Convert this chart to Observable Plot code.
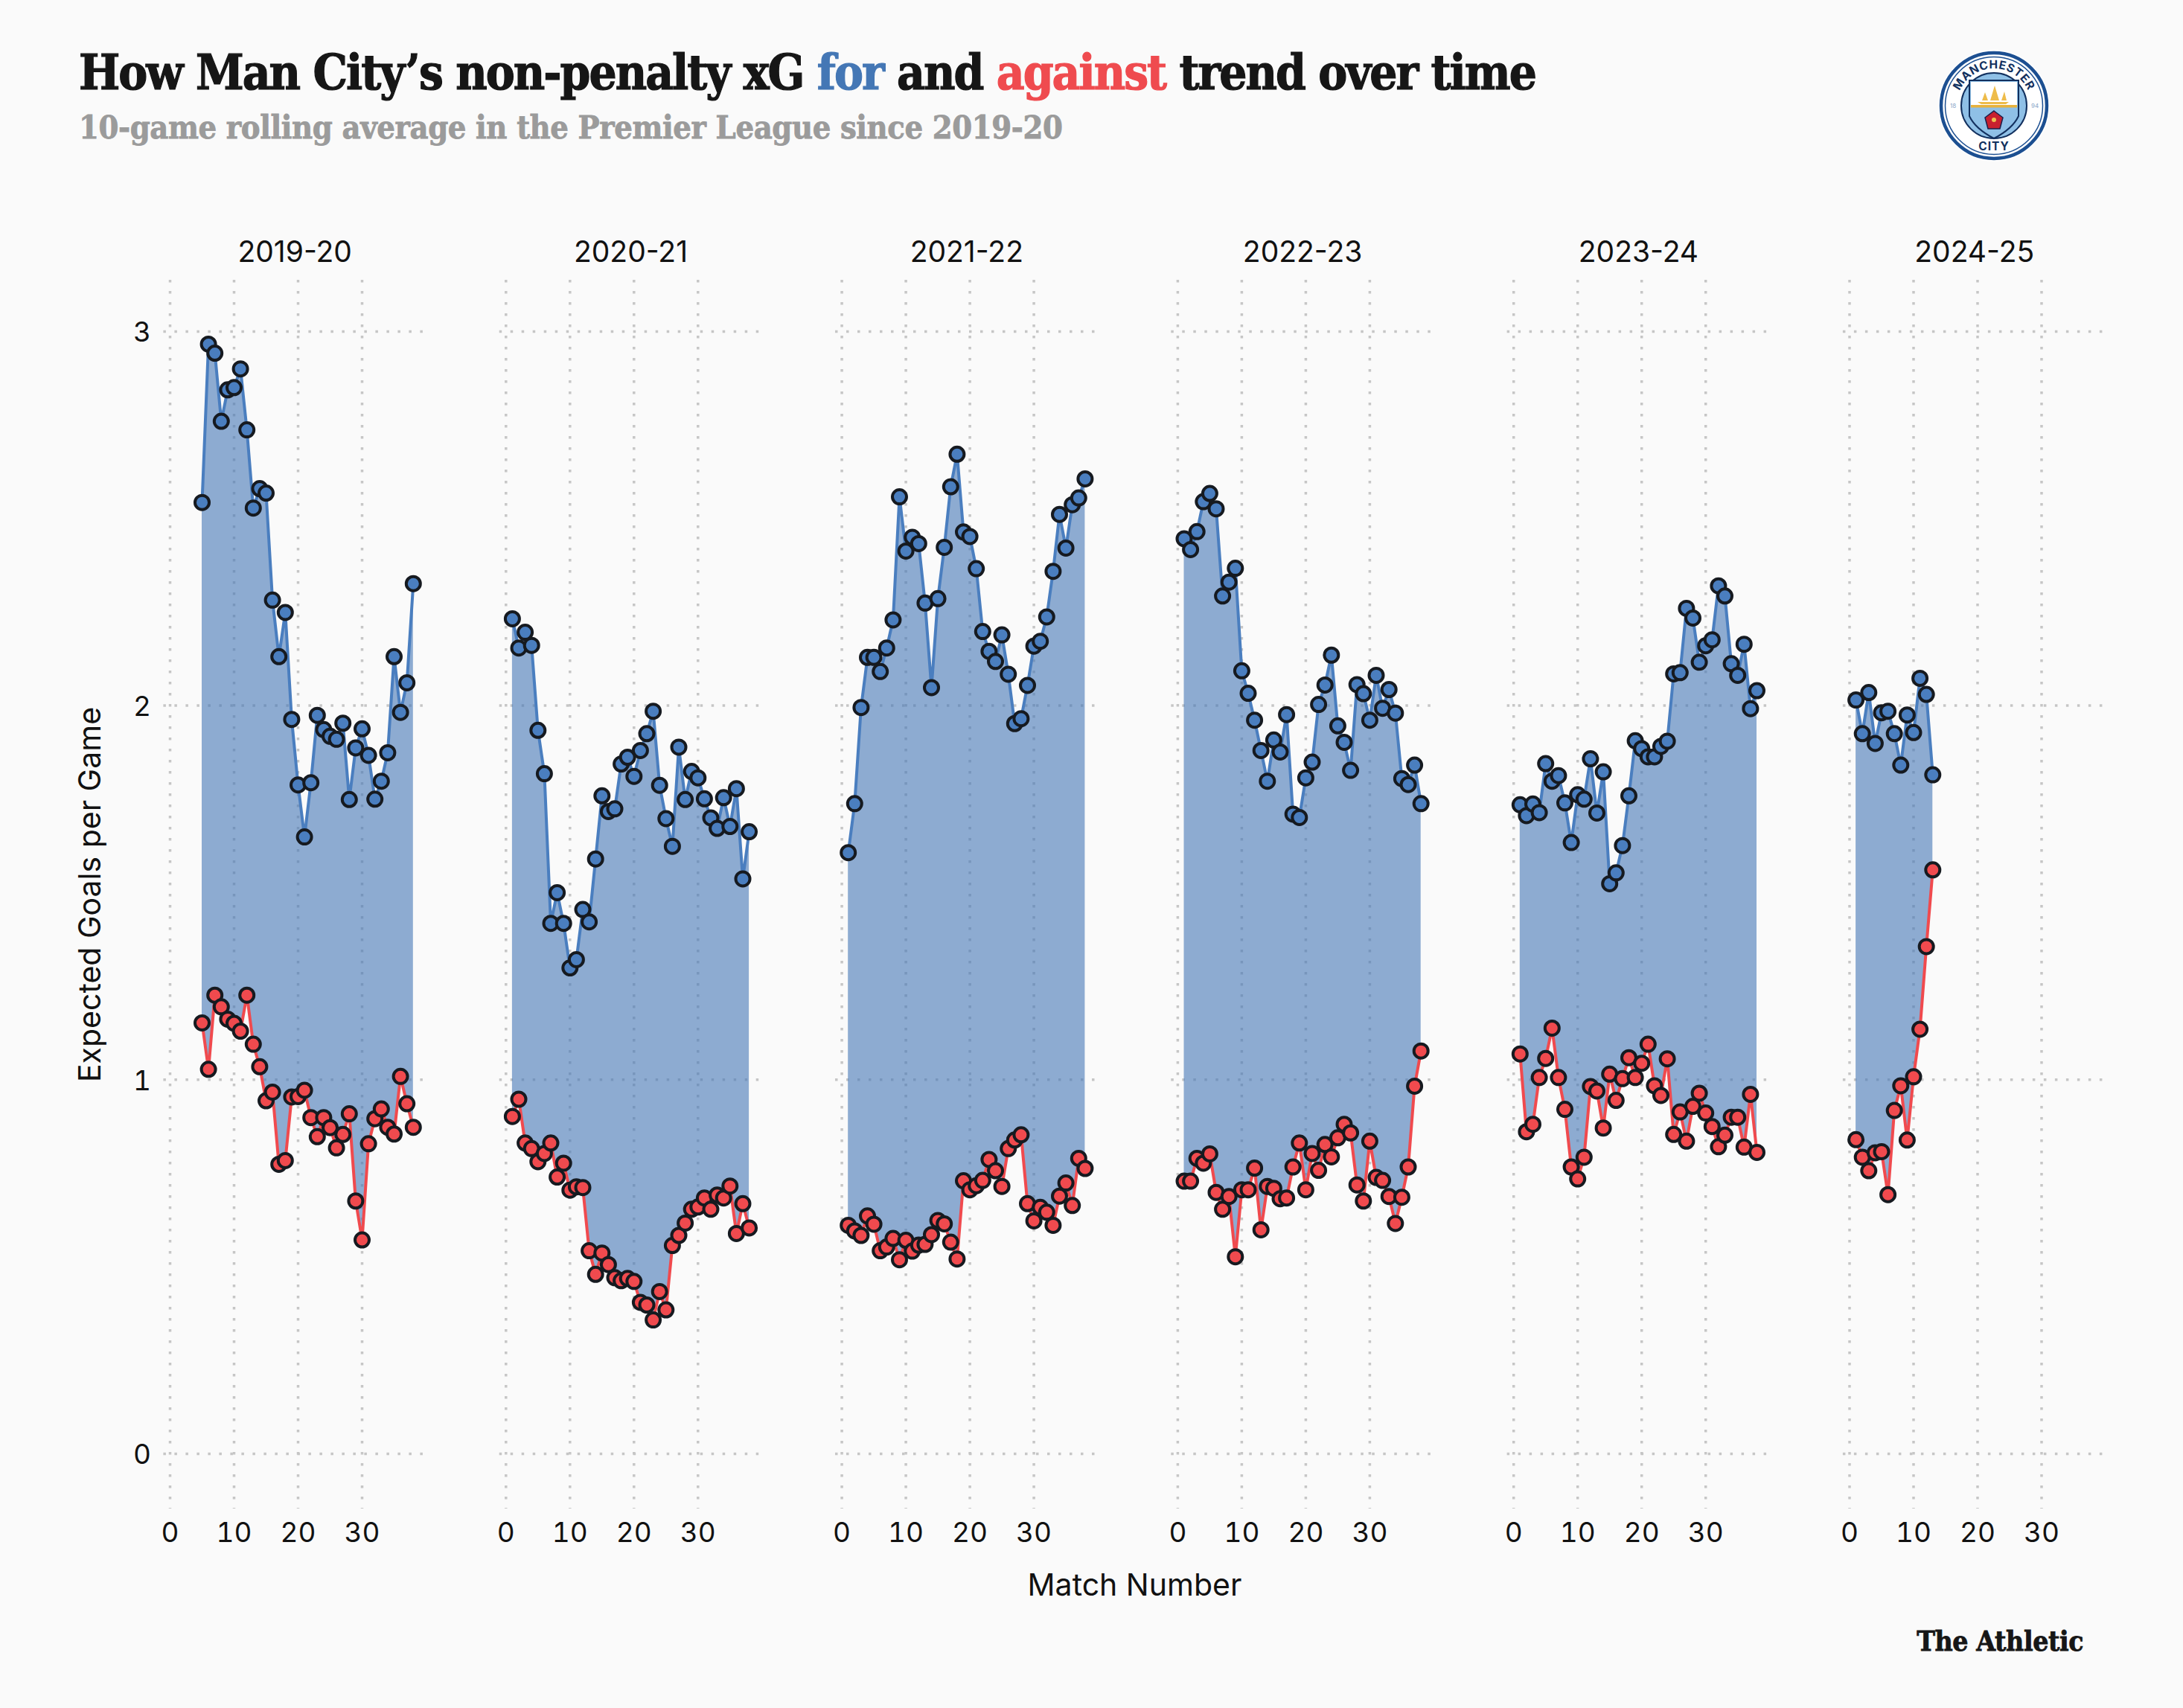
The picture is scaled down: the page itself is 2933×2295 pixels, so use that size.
<!DOCTYPE html>
<html><head><meta charset="utf-8">
<script src="https://cdn.jsdelivr.net/npm/d3@7"></script>
<script src="https://cdn.jsdelivr.net/npm/@observablehq/plot@0.6"></script>
<style>
html,body{margin:0;padding:0;background:#fafafa;}
#page{position:relative;width:2933px;height:2295px;overflow:hidden;background:#fafafa;}
#header{position:relative;height:290px;}
.slab{font-family:"DejaVu Serif Condensed","DejaVu Serif",serif;font-weight:700;white-space:nowrap;position:absolute;line-height:1;}
#title{left:106px;top:65px;font-size:65px;color:#161616;letter-spacing:-2px;-webkit-text-stroke:1.2px currentColor;}
#subtitle{left:106px;top:150px;font-size:43px;color:#9b9b9b;letter-spacing:-0.4px;-webkit-text-stroke:0.8px currentColor;}
#logo{position:absolute;left:2600px;top:63px;width:158px;height:158px;}
#caption{position:absolute;left:2450px;width:349px;text-align:right;top:2187px;font-size:37px;letter-spacing:-0.4px;color:#161616;-webkit-text-stroke:0.8px currentColor;}
#chart svg{display:block;}
</style></head>
<body><div id="page">
<div id="header">
<div id="title" class="slab">How Man City’s non-penalty xG <span style="color:#4477b5">for</span> and <span style="color:#ef4b4f">against</span> trend over time</div>
<div id="subtitle" class="slab">10-game rolling average in the Premier League since 2019-20</div>
<svg id="logo" viewBox="-79 -79 158 158">
<defs><path id="arcTop" d="M -48.3 12.9 A 50 50 0 1 1 48.3 12.9"/></defs>
<circle r="75" fill="#fff"/>
<circle r="71" fill="none" stroke="#1c4f91" stroke-width="4.5"/>
<circle r="65.5" fill="none" stroke="#1c4f91" stroke-width="1.5"/>
<circle r="44" fill="#8fc0e6" stroke="#12305e" stroke-width="2"/>
<text font-family="Inter,sans-serif" font-weight="700" font-size="15.5" fill="#12305e" letter-spacing="0.6"><textPath href="#arcTop" startOffset="50%" text-anchor="middle">MANCHESTER</textPath></text>
<text y="60" text-anchor="middle" font-family="Inter,sans-serif" font-weight="700" font-size="15.5" fill="#12305e" letter-spacing="1">CITY</text>
<text x="-55" y="3" text-anchor="middle" font-family="Inter,sans-serif" font-size="8" fill="#8aa6c8">18</text>
<text x="55" y="3" text-anchor="middle" font-family="Inter,sans-serif" font-size="8" fill="#8aa6c8">94</text>
<path d="M -33 -34 L 33 -34 L 33 14 Q 25 31 0 44 Q -25 31 -33 14 Z" fill="#8fc0e6" stroke="#12305e" stroke-width="2"/>
<path d="M -31 -32 L 31 -32 L 31 1 L -31 1 Z" fill="#fff"/>
<rect x="-31" y="-1" width="62" height="3.5" fill="#e8b23c"/>
<path d="M -22 -5 L 20 -5 L 16 -2 L -17 -2 Z M -16 -7 L -12 -18 L -8 -7 Z M -5 -7 L 1 -27 L 7 -7 Z M 10 -7 L 14 -19 L 17 -7 Z" fill="#eebc4a"/>
<path d="M 0 7 L 12 16 L 8 31 L -8 31 L -12 16 Z" fill="#c8202f" stroke="#1b1f4b" stroke-width="1.5"/>
<circle cy="19" r="3" fill="#efc14f"/>
</svg>
</div>
<div id="chart"></div>
<div id="caption" class="slab">The Athletic</div>
</div>
<script>
const seasons = ["2019-20","2020-21","2021-22","2022-23","2023-24","2024-25"];
const firstMatch = [5,1,1,1,1,1];
const xTicks = [0,10,20,30];
const yTicks = [0,1,2,3];

const for1920 = [2.543,2.966,2.942,2.76,2.844,2.85,2.90,2.737,2.528,2.58,2.568,2.282,2.131,2.249,1.963,1.788,1.649,1.794,1.974,1.936,1.918,1.910,1.953,1.749,1.887,1.938,1.867,1.750,1.798,1.874,2.131,1.982,2.061,2.326];
const against1920 = [1.152,1.028,1.226,1.195,1.162,1.151,1.130,1.226,1.095,1.035,0.944,0.967,0.774,0.784,0.954,0.955,0.972,0.899,0.848,0.899,0.872,0.818,0.854,0.909,0.676,0.572,0.829,0.896,0.922,0.873,0.855,1.009,0.936,0.873];
const for2021 = [2.232,2.154,2.196,2.161,1.934,1.818,1.418,1.500,1.418,1.299,1.321,1.455,1.422,1.590,1.759,1.717,1.724,1.844,1.862,1.811,1.880,1.925,1.985,1.787,1.698,1.624,1.889,1.749,1.824,1.807,1.751,1.700,1.672,1.754,1.677,1.778,1.537,1.663];
const against2021 = [0.902,0.948,0.831,0.816,0.781,0.803,0.831,0.740,0.777,0.705,0.714,0.712,0.543,0.480,0.537,0.506,0.471,0.463,0.469,0.461,0.405,0.398,0.358,0.434,0.385,0.557,0.584,0.617,0.654,0.660,0.684,0.654,0.692,0.684,0.716,0.589,0.669,0.604];
const for2122 = [1.607,1.738,1.995,2.129,2.129,2.091,2.154,2.229,2.558,2.413,2.450,2.433,2.274,2.048,2.286,2.423,2.585,2.672,2.464,2.452,2.366,2.198,2.145,2.118,2.189,2.084,1.952,1.965,2.054,2.159,2.172,2.237,2.359,2.511,2.421,2.537,2.555,2.606];
const against2122 = [0.611,0.596,0.584,0.636,0.614,0.543,0.553,0.576,0.519,0.571,0.542,0.558,0.560,0.586,0.624,0.615,0.566,0.521,0.730,0.706,0.717,0.731,0.787,0.757,0.715,0.816,0.839,0.853,0.669,0.623,0.659,0.646,0.611,0.689,0.724,0.664,0.790,0.763];
const for2223 = [2.446,2.417,2.465,2.545,2.567,2.526,2.293,2.330,2.367,2.093,2.033,1.961,1.880,1.798,1.908,1.876,1.976,1.710,1.701,1.807,1.849,2.003,2.055,2.135,1.946,1.902,1.827,2.056,2.032,1.961,2.081,1.993,2.043,1.980,1.805,1.789,1.841,1.738];
const against2223 = [0.729,0.729,0.790,0.777,0.802,0.699,0.654,0.688,0.527,0.706,0.706,0.764,0.599,0.715,0.710,0.682,0.684,0.767,0.831,0.706,0.803,0.758,0.827,0.794,0.845,0.881,0.858,0.719,0.676,0.836,0.739,0.731,0.688,0.616,0.686,0.767,0.983,1.077];
const for2324 = [1.735,1.706,1.737,1.714,1.845,1.798,1.813,1.740,1.634,1.762,1.750,1.858,1.713,1.823,1.524,1.553,1.626,1.759,1.906,1.885,1.863,1.863,1.891,1.905,2.085,2.088,2.260,2.234,2.116,2.160,2.176,2.320,2.293,2.112,2.081,2.164,1.992,2.040];
const against2324 = [1.069,0.861,0.881,1.006,1.057,1.138,1.006,0.921,0.767,0.735,0.793,0.982,0.970,0.871,1.015,0.945,1.003,1.059,1.006,1.044,1.095,0.984,0.958,1.056,0.854,0.914,0.836,0.929,0.964,0.911,0.875,0.821,0.852,0.900,0.900,0.820,0.961,0.806];
const for2425 = [2.015,1.925,2.035,1.899,1.981,1.985,1.925,1.841,1.975,1.928,2.073,2.030,1.815];
const against2425 = [0.840,0.793,0.757,0.805,0.808,0.693,0.918,0.984,0.839,1.008,1.135,1.356,1.561];

const forSeries = [for1920,for2021,for2122,for2223,for2324,for2425];
const againstSeries = [against1920,against2021,against2122,against2223,against2324,against2425];

const rows = seasons.flatMap((season,s)=>forSeries[s].map((xgFor,i)=>({
  season, match:firstMatch[s]+i, xgFor, xgAgainst:againstSeries[s][i]
})));

const BLUE="#4a7ebf", RED="#f04a4e", INK="#161a20", GRID="#c6c6c6";
const uiFont='Inter, sans-serif';
const chart = Plot.plot({
  width:2933, height:1880,
  marginLeft:219.4, marginRight:104.5, marginTop:86, marginBottom:143,
  style:{fontFamily:uiFont, background:"transparent", color:"#111", overflow:"visible"},
  fx:{domain:seasons, paddingInner:0.2187, paddingOuter:0, round:false, label:null},
  x:{domain:[-1,40], label:null},
  y:{domain:[-0.147,3.137], label:null},
  marks:[
    Plot.gridX(xTicks,{stroke:GRID,strokeOpacity:1,strokeWidth:3.5,strokeDasharray:"3.5,11.5"}),
    Plot.gridY(yTicks,{stroke:GRID,strokeOpacity:1,strokeWidth:3.5,strokeDasharray:"3.5,11.5"}),
    Plot.areaY(rows,{fx:"season",x:"match",y1:"xgFor",y2:"xgAgainst",fill:"#4477b5",fillOpacity:0.6,curve:"linear"}),
    Plot.lineY(rows,{fx:"season",x:"match",y:"xgFor",stroke:BLUE,strokeWidth:4,curve:"linear"}),
    Plot.lineY(rows,{fx:"season",x:"match",y:"xgAgainst",stroke:RED,strokeWidth:4,curve:"linear"}),
    Plot.dot(rows,{fx:"season",x:"match",y:"xgFor",r:9.5,fill:BLUE,stroke:INK,strokeWidth:4}),
    Plot.dot(rows,{fx:"season",x:"match",y:"xgAgainst",r:9.5,fill:RED,stroke:INK,strokeWidth:4}),
    Plot.axisFx({anchor:"top",label:null,tickSize:0,tickPadding:25,fontSize:39}),
    Plot.axisX(xTicks,{anchor:"bottom",label:null,tickSize:0,tickPadding:18,fontSize:37}),
    Plot.axisX([],{anchor:"bottom",label:"Match Number",labelAnchor:"center",labelArrow:"none",labelOffset:116,tickSize:0,fontSize:41}),
    Plot.axisY(yTicks,{anchor:"left",label:null,tickSize:0,tickPadding:17,fontSize:37,tickFormat:"d",dy:2}),
    Plot.axisY([],{anchor:"left",label:"Expected Goals per Game",labelAnchor:"center",labelArrow:"none",labelOffset:114,tickSize:0,fontSize:41})
  ]
});
document.getElementById("chart").appendChild(chart);
</script>
</body></html>
